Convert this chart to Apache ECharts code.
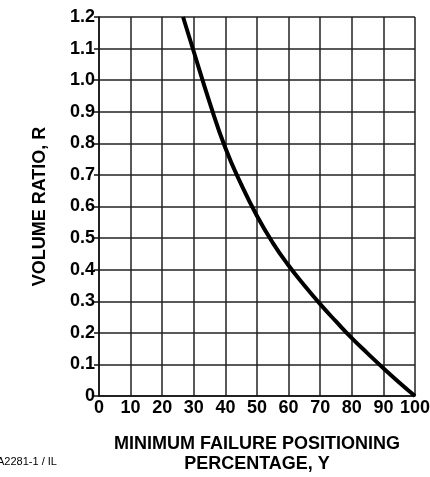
<!DOCTYPE html>
<html>
<head>
<meta charset="utf-8">
<script src="https://cdn.jsdelivr.net/npm/echarts@6/dist/echarts.min.js"></script>
<style>
  html, body { margin: 0; padding: 0; background: #fff; }
  #chart { width: 430px; height: 477px; }
</style>
</head>
<body>
<div id="chart"></div>
<script>
// percentage Y (x axis) and volume ratio R (y axis)
const percentY = [26.6, 30, 35, 40, 45, 50, 55, 60, 65, 70, 75, 80, 85, 90, 95, 100];
const ratioR = [1.2, 1.09, 0.93, 0.785, 0.67, 0.57, 0.485, 0.413, 0.35, 0.291, 0.236, 0.183, 0.135, 0.088, 0.043, 0];

const chart = echarts.init(document.getElementById("chart"));
const font = "'Liberation Sans', Arial, sans-serif";

chart.setOption({
  animation: false,
  grid: {
    left: 99,
    right: 15,
    top: 17,
    bottom: 81,
    outerBoundsMode: "none",
  },
  xAxis: {
    type: "value",
    min: 0,
    max: 100,
    interval: 10,
    name: "MINIMUM FAILURE POSITIONING\nPERCENTAGE, Y",
    nameLocation: "middle",
    nameGap: 38,
    nameTextStyle: {
      color: "#000",
      fontFamily: font,
      fontWeight: "bold",
      fontSize: 18,
      lineHeight: 20,
      verticalAlign: "top",
    },
    axisLine: { show: true, lineStyle: { color: "#111", width: 1.5 } },
    axisTick: { show: false },
    axisLabel: {
      color: "#000",
      fontFamily: font,
      fontWeight: "bold",
      fontSize: 18,
      margin: 3,
    },
    splitLine: { show: true, lineStyle: { color: "#222", width: 1.5 } },
  },
  yAxis: {
    type: "value",
    min: 0,
    max: 1.2,
    interval: 0.1,
    name: "VOLUME RATIO, R",
    nameLocation: "middle",
    nameRotate: 90,
    nameGap: 50,
    nameTextStyle: {
      color: "#000",
      fontFamily: font,
      fontWeight: "bold",
      fontSize: 18,
    },
    axisLine: { show: true, lineStyle: { color: "#111", width: 1.5 } },
    axisTick: { show: true, length: 5, lineStyle: { color: "#111", width: 1.5 } },
    axisLabel: {
      color: "#000",
      fontFamily: font,
      fontWeight: "bold",
      fontSize: 18,
      margin: 4,
      formatter: (v) => (v === 0 ? "0" : v.toFixed(1)),
    },
    splitLine: { show: true, lineStyle: { color: "#222", width: 1.5 } },
  },
  graphic: [
    {
      type: "text",
      left: -3,
      top: 456,
      style: {
        text: "A2281-1 / IL",
        fill: "#000",
        fontFamily: font,
        fontSize: 11,
      },
    },
  ],
  series: [
    {
      type: "line",
      data: percentY.map((x, i) => [x, ratioR[i]]),
      smooth: true,
      showSymbol: false,
      lineStyle: { color: "#000", width: 4 },
    },
  ],
});
</script>
</body>
</html>
